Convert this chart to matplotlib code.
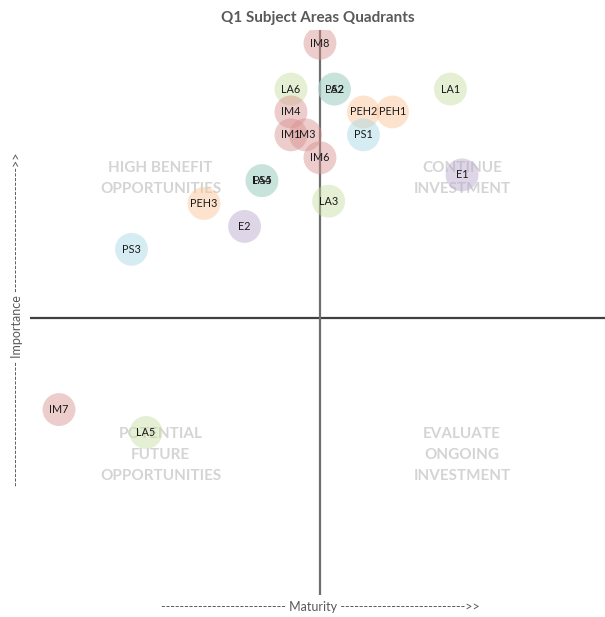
import matplotlib
matplotlib.use("Agg")
import matplotlib.pyplot as plt

plt.rcParams['font.family'] = ['Lato', 'DejaVu Sans']

# Data
labels = ["IM8", "LA6", "LA2", "PS2", "LA1", "IM4", "PEH2", "PEH1", "IM1", "IM3",
          "PS1", "IM6", "E1", "LA4", "PS5", "LA3", "PEH3", "E2", "PS3", "IM7", "LA5"]
maturity = [0, -2, 1, 1, 9, -2, 3, 5, -2, -1,
            3, 0, 9.8, -4, -4, 0.6, -8, -5.2, -13, -18, -12]
importance = [12, 10, 10, 10, 10, 9, 9, 9, 8, 8,
              8, 7, 6.25, 6, 6, 5.1, 5, 4, 3, -4, -5]
groups = ["IM", "LA", "LA", "PS", "LA", "IM", "PEH", "PEH", "IM", "IM",
          "PS", "IM", "E", "LA", "PS", "LA", "PEH", "E", "PS", "IM", "LA"]
group_colors = {"IM": "#d98f8e", "LA": "#c6dc9e", "PEH": "#fbc393",
                "PS": "#a6d6e6", "E": "#b6a6cb"}

quadrants = [("HIGH BENEFIT\nOPPORTUNITIES", -11, 6.1),
             ("CONTINUE\nINVESTMENT", 9.8, 6.1),
             ("POTENTIAL\nFUTURE\nOPPORTUNITIES", -11, -5.98),
             ("EVALUATE\nONGOING\nINVESTMENT", 9.8, -5.98)]

W, H = 605, 617
fig = plt.figure(figsize=(W / 100, H / 100), dpi=100)
ax = fig.add_axes([30 / W, (H - 595) / H, (605 - 30) / W, (595 - 30) / H])
ax.set_xlim(-20, 19.66)
ax.set_ylim(-12.1, 12.58)
for s in ax.spines.values():
    s.set_visible(False)
ax.set_xticks([])
ax.set_yticks([])

ax.axhline(0, color="#404040", lw=1.6, zorder=1)
ax.axvline(0, color="#6e6e6e", lw=1.6, zorder=1)

for text, x, y in quadrants:
    ax.text(x, y, text, ha="center", va="center", fontsize=11, fontweight="bold",
            color="#d4d4d4", linespacing=1.65, zorder=2)

for lab, x, y, g in zip(labels, maturity, importance, groups):
    ax.scatter(x, y, s=560, color=group_colors[g], alpha=0.45, edgecolors="none", zorder=3)
    ax.text(x, y, lab, ha="center", va="center", fontsize=7.8, color="#1a1a1a", zorder=4)

fig.text(318 / W, 1 - 18 / H, "Q1 Subject Areas Quadrants", ha="center", va="center",
         fontsize=11, fontweight="bold", color="#595959")
fig.text(320 / W, 1 - 607 / H,
         "--------------------------- Maturity --------------------------->>",
         ha="center", va="center", fontsize=9, color="#595959")
fig.text(17 / W, 1 - 319 / H,
         "--------------------------- Importance --------------------------->>",
         ha="center", va="center", fontsize=9, color="#595959", rotation=90)

fig.savefig("out.png", dpi=100)
